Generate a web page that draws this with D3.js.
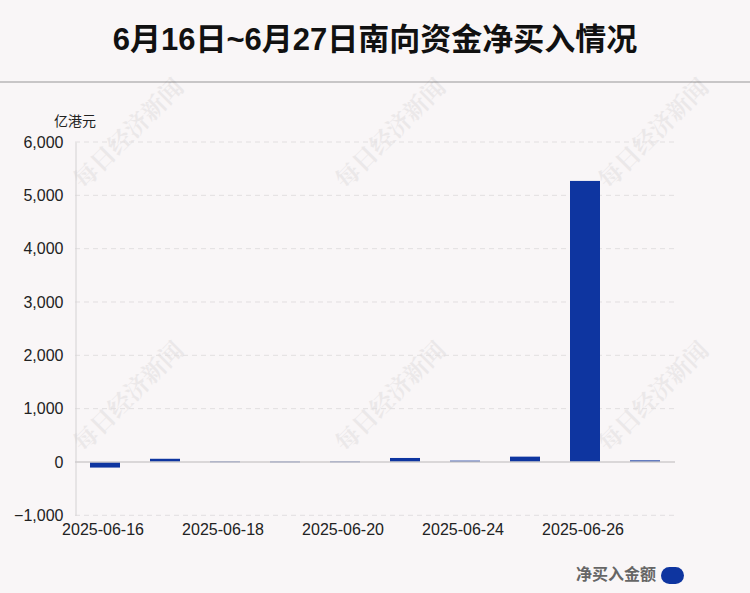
<!DOCTYPE html>
<html><head><meta charset="utf-8">
<script src="https://cdn.jsdelivr.net/npm/d3@7"></script>
<style>
html,body{margin:0;padding:0;background:#f9f6f7;}
svg{display:block;}
</style></head>
<body>
<script>
const categories = ["2025-06-16","2025-06-17","2025-06-18","2025-06-19","2025-06-20","2025-06-23","2025-06-24","2025-06-25","2025-06-26","2025-06-27"];
const values = [-105, 60, 12, 10, 12, 75, 25, 100, 5270, 30];
const yTicks = [-1000, 0, 1000, 2000, 3000, 4000, 5000, 6000];
const xTickLabels = ["2025-06-16","2025-06-18","2025-06-20","2025-06-24","2025-06-26"];
const title = "6月16日~6月27日南向资金净买入情况";
const unit = "亿港元";
const seriesName = "净买入金额";

const W = 750, H = 593;
const svg = d3.select("body").append("svg").attr("width", W).attr("height", H);
svg.append("rect").attr("width", W).attr("height", H).attr("fill", "#f9f6f7");

const font = "'Liberation Sans', Arial, 'Noto Sans CJK SC', sans-serif";

// title
svg.append("text").attr("x", 375).attr("y", 50).attr("text-anchor", "middle")
  .attr("font-family", font).attr("font-weight", "bold").attr("font-size", 31)
  .attr("fill", "#111").text(title);
svg.append("line").attr("x1", 0).attr("x2", W).attr("y1", 82).attr("y2", 82)
  .attr("stroke", "#c8c6c7").attr("stroke-width", 2);

// watermarks
const wm = [[130,135],[392,135],[655,135],[130,398],[392,398],[655,398]];
wm.forEach(([cx,cy]) => {
  svg.append("text").attr("transform", `translate(${cx},${cy}) rotate(-45)`)
    .attr("text-anchor", "middle").attr("dominant-baseline", "middle")
    .attr("font-family", "'Noto Serif CJK SC', 'Noto Sans CJK SC', serif").attr("font-weight", "bold")
    .attr("font-size", 24).attr("fill", "#000").attr("opacity", 0.05)
    .text("每日经济新闻");
});

const x = d3.scaleBand().domain(categories).range([75, 675]).paddingInner(0.5).paddingOuter(0.25);
const y = d3.scaleLinear().domain([-1000, 6000]).range([515.3, 142]);

// grid
svg.append("g").selectAll("line").data(yTicks.filter(d => d !== 0)).join("line")
  .attr("x1", 75).attr("x2", 675).attr("y1", d => y(d)).attr("y2", d => y(d))
  .attr("stroke", "#e2dfe0").attr("stroke-dasharray", "5,4").attr("stroke-width", 1);

// y axis
const yAxis = d3.axisLeft(y).tickValues(yTicks).tickSize(0).tickPadding(12).tickFormat(d3.format(","));
const ga = svg.append("g").attr("transform", "translate(75.5,0)").call(yAxis);
ga.select(".domain").attr("stroke", "#d4d2d3");
ga.selectAll("text").attr("font-family", font).attr("font-size", 16).attr("fill", "#222");

// x axis labels
const xAxis = d3.axisBottom(x).tickValues(xTickLabels).tickSize(0).tickPadding(8);
const gx = svg.append("g").attr("transform", `translate(-2,${y(-1000)})`).call(xAxis);
gx.select(".domain").remove();
gx.selectAll("text").attr("font-family", font).attr("font-size", 16).attr("fill", "#222");

// bars
svg.append("g").selectAll("rect").data(values).join("rect")
  .attr("x", (d,i) => x(categories[i]))
  .attr("width", x.bandwidth())
  .attr("y", d => Math.min(y(d), y(0)))
  .attr("height", d => Math.max(1, Math.abs(y(d) - y(0))))
  .attr("fill", "#0e35a0");

// zero line
svg.append("line").attr("x1", 75).attr("x2", 675).attr("y1", y(0)).attr("y2", y(0))
  .attr("stroke", "#cfcdce").attr("stroke-width", 1.5);

// unit
svg.append("text").attr("x", 54).attr("y", 126).attr("font-family", "'Noto Sans CJK SC', sans-serif")
  .attr("font-size", 14).attr("fill", "#222").text(unit);

// legend
svg.append("text").attr("x", 656).attr("y", 580).attr("text-anchor", "end")
  .attr("font-family", "'Noto Sans CJK SC', sans-serif").attr("font-weight", "bold")
  .attr("font-size", 16).attr("fill", "#666").text(seriesName);
svg.append("rect").attr("x", 661).attr("y", 567).attr("width", 23).attr("height", 17)
  .attr("rx", 8.5).attr("fill", "#0e35a0");
</script>
</body></html>
